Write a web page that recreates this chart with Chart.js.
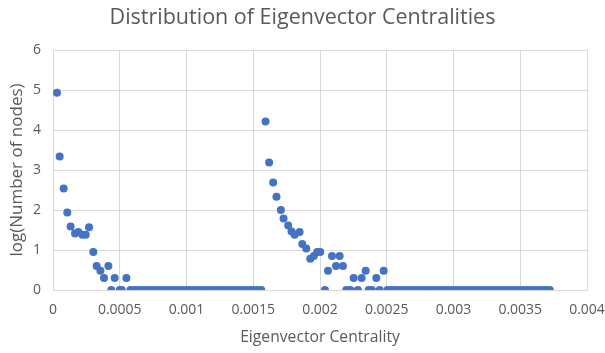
<!DOCTYPE html>
<html>
<head>
<meta charset="utf-8">
<script src="https://cdn.jsdelivr.net/npm/chart.js@4/dist/chart.umd.min.js"></script>
<style>
  html, body { margin: 0; padding: 0; background: #ffffff; }
  #wrap { width: 605px; height: 353px; }
</style>
</head>
<body>
<div id="wrap"><canvas id="c" width="605" height="353"></canvas></div>
<script>
// Eigenvector centrality bins (x) and log10 of node count per bin (y).
// Low-centrality group.
const lowCentrality = [
  0.000030, 0.000050, 0.000080, 0.000107, 0.000132, 0.000165, 0.000190, 0.000220,
  0.000245, 0.000270, 0.000302, 0.000327, 0.000355, 0.000382, 0.000415, 0.000437,
  0.000462, 0.000500, 0.000515, 0.000550
];
const lowLogNodes = [
  4.93, 3.34, 2.54, 1.94, 1.59, 1.41, 1.45, 1.38,
  1.38, 1.57, 0.95, 0.60, 0.48, 0.30, 0.60, 0,
  0.30, 0, 0, 0.30
];

// Bins holding a single node between the two groups.
const gapCentrality = [
  0.000580, 0.000608, 0.000636, 0.000664, 0.000692, 0.000720, 0.000748, 0.000776,
  0.000804, 0.000832, 0.000860, 0.000888, 0.000916, 0.000944, 0.000972, 0.001000,
  0.001028, 0.001056, 0.001084, 0.001112, 0.001140, 0.001168, 0.001196, 0.001224,
  0.001252, 0.001280, 0.001308, 0.001336, 0.001364, 0.001392, 0.001420, 0.001448,
  0.001476, 0.001504, 0.001532, 0.001560
];
const gapLogNodes = [
  0, 0, 0, 0, 0, 0, 0, 0,
  0, 0, 0, 0, 0, 0, 0, 0,
  0, 0, 0, 0, 0, 0, 0, 0,
  0, 0, 0, 0, 0, 0, 0, 0,
  0, 0, 0, 0
];

// High-centrality group.
const highCentrality = [
  0.001592, 0.001619, 0.001649, 0.001674, 0.001707, 0.001727, 0.001762, 0.001787,
  0.001810, 0.001847, 0.001867, 0.001897, 0.001927, 0.001954, 0.001979, 0.002002,
  0.002037, 0.002060, 0.002090, 0.002120, 0.002147, 0.002172, 0.002197, 0.002227,
  0.002252, 0.002284, 0.002312, 0.002342, 0.002364, 0.002389, 0.002422, 0.002447,
  0.002477
];
const highLogNodes = [
  4.21, 3.19, 2.69, 2.33, 2.00, 1.79, 1.61, 1.46,
  1.38, 1.45, 1.15, 1.04, 0.78, 0.85, 0.95, 0.95,
  0, 0.48, 0.85, 0.60, 0.85, 0.60, 0, 0,
  0.30, 0, 0.30, 0.48, 0, 0, 0.30, 0,
  0.48
];

// Single-node bins in the long tail.
const tailCentrality = [
  0.002505, 0.002533, 0.002561, 0.002590, 0.002618, 0.002646, 0.002674, 0.002703,
  0.002731, 0.002759, 0.002788, 0.002816, 0.002844, 0.002872, 0.002901, 0.002929,
  0.002957, 0.002986, 0.003014, 0.003042, 0.003070, 0.003099, 0.003127, 0.003155,
  0.003184, 0.003212, 0.003240, 0.003268, 0.003297, 0.003325, 0.003353, 0.003382,
  0.003410, 0.003438, 0.003466, 0.003495, 0.003523, 0.003551, 0.003580, 0.003608,
  0.003636, 0.003664, 0.003693, 0.003721
];
const tailLogNodes = [
  0, 0, 0, 0, 0, 0, 0, 0,
  0, 0, 0, 0, 0, 0, 0, 0,
  0, 0, 0, 0, 0, 0, 0, 0,
  0, 0, 0, 0, 0, 0, 0, 0,
  0, 0, 0, 0, 0, 0, 0, 0,
  0, 0, 0, 0
];

const xTickLabels = ['0', '0.0005', '0.001', '0.0015', '0.002', '0.0025', '0.003', '0.0035', '0.004'];
const yTickLabels = ['0', '1', '2', '3', '4', '5', '6'];

const chartTitle = 'Distribution of Eigenvector Centralities';
const xTitle = 'Eigenvector Centrality';
const yTitle = 'log(Number of nodes)';

const allX = [].concat(lowCentrality, gapCentrality, highCentrality, tailCentrality);
const allY = [].concat(lowLogNodes, gapLogNodes, highLogNodes, tailLogNodes);
const points = allX.map((x, i) => ({ x: x, y: allY[i] }));

const textColor = '#595959';
const gridColor = '#d9d9d9';
const fontFamily = '"Open Sans", "Liberation Sans", sans-serif';

new Chart(document.getElementById('c'), {
  type: 'scatter',
  data: {
    datasets: [{
      data: points,
      backgroundColor: '#4472C4',
      borderColor: '#4472C4',
      borderWidth: 0,
      pointRadius: 4,
      pointHoverRadius: 4
    }]
  },
  options: {
    responsive: false,
    animation: false,
    devicePixelRatio: 1,
    layout: { padding: { left: 18, right: 18, top: 0, bottom: 0 } },
    plugins: {
      legend: { display: false },
      tooltip: { enabled: false },
      title: {
        display: true,
        text: chartTitle,
        color: textColor,
        font: { family: fontFamily, size: 21.5, weight: 'normal', lineHeight: 1.2 },
        padding: { top: 5, bottom: 19.2 }
      }
    },
    scales: {
      x: {
        type: 'linear',
        min: 0,
        max: 0.004,
        ticks: {
          stepSize: 0.0005,
          color: textColor,
          font: { family: fontFamily, size: 14 },
          padding: 12,
          maxRotation: 0,
          autoSkip: false,
          callback: (v, i) => xTickLabels[i]
        },
        grid: { color: gridColor, lineWidth: 1, drawTicks: false },
        border: { color: gridColor, width: 1 },
        title: {
          display: true,
          text: xTitle,
          color: textColor,
          font: { family: fontFamily, size: 15.7, lineHeight: 1.2 },
          padding: { top: 0, bottom: 6.5 }
        },
        afterFit: (s) => { s.height = 63; s.paddingLeft = 0; s.paddingRight = 0; }
      },
      y: {
        type: 'linear',
        min: 0,
        max: 6,
        ticks: {
          stepSize: 1,
          color: textColor,
          font: { family: fontFamily, size: 14 },
          padding: 12,
          callback: (v, i) => yTickLabels[i]
        },
        grid: { color: gridColor, lineWidth: 1, drawTicks: false },
        border: { color: gridColor, width: 1 },
        title: {
          display: true,
          text: yTitle,
          color: textColor,
          font: { family: fontFamily, size: 17, lineHeight: 1.2 },
          padding: { top: -11.2, bottom: 0 }
        },
        afterFit: (s) => { s.width = 35; s.paddingTop = 0; s.paddingBottom = 0; }
      }
    }
  }
});
</script>
</body>
</html>
